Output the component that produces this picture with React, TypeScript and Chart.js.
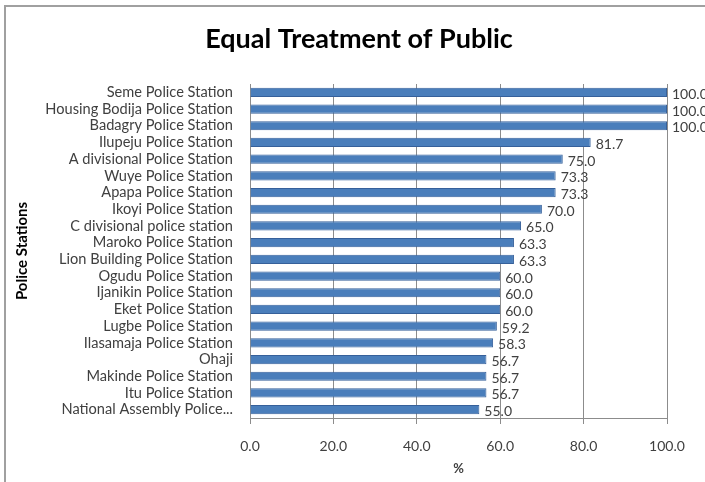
import React, { useEffect, useRef } from "react";
import { Chart, registerables } from "chart.js";

Chart.register(...registerables);

const categories = [
  "Seme Police Station",
  "Housing Bodija Police Station",
  "Badagry Police Station",
  "Ilupeju Police Station",
  "A divisional Police Station",
  "Wuye Police Station",
  "Apapa Police Station",
  "Ikoyi Police Station",
  "C divisional police station",
  "Maroko Police Station",
  "Lion Building Police Station",
  "Ogudu Police Station",
  "Ijanikin Police Station",
  "Eket Police Station",
  "Lugbe Police Station",
  "Ilasamaja Police Station",
  "Ohaji",
  "Makinde Police Station",
  "Itu Police Station",
  "National Assembly Police...",
];

const values = [100, 100, 100, 81.7, 75, 73.3, 73.3, 70, 65, 63.3, 63.3, 60, 60, 60, 59.2, 58.3, 56.7, 56.7, 56.7, 55];

const titleText = "Equal Treatment of Public";
const yTitle = "Police Stations";
const xTitle = "%";
const xMin = 0;
const xMax = 100;
const xStep = 20;

const FONT = "Lato, 'Open Sans', sans-serif";

const labelPlugin = {
  id: "valueLabels",
  afterDatasetsDraw(chart: any) {
    const ctx = chart.ctx;
    const meta = chart.getDatasetMeta(0);
    ctx.save();
    ctx.font = `14px ${FONT}`;
    ctx.fillStyle = "#404040";
    ctx.textAlign = "left";
    ctx.textBaseline = "middle";
    meta.data.forEach((bar: any, i: number) => {
      const v = chart.data.datasets[0].data[i];
      ctx.fillText(Number(v).toFixed(1), bar.x + 5, bar.y + 2);
    });
    ctx.restore();
  },
};

const titlePlugin = {
  id: "customTitle",
  afterDraw(chart: any) {
    const ctx = chart.ctx;
    ctx.save();
    ctx.font = `bold 27px ${FONT}`;
    ctx.fillStyle = "#000";
    ctx.textAlign = "center";
    ctx.textBaseline = "middle";
    ctx.fillText(titleText, 359, 39);
    ctx.restore();
  },
};

export default function App() {
  const ref = useRef<HTMLCanvasElement | null>(null);

  useEffect(() => {
    document.body.style.margin = "0";
    const canvas = ref.current!;
    const chart = new Chart(canvas, {
      type: "bar",
      data: {
        labels: categories,
        datasets: [
          {
            data: values,
            backgroundColor: (c: any) => {
              const el = c.element;
              const y = el ? el.y : NaN;
              if (!Number.isFinite(y)) return "#4a7ebb";
              const g = c.chart.ctx.createLinearGradient(0, y - 5, 0, y + 5);
              g.addColorStop(0, "#5a8fd0");
              g.addColorStop(0.5, "#4a7ebb");
              g.addColorStop(1, "#3c68a0");
              return g;
            },
            borderColor: "#36609a",
            borderWidth: 1,
            barPercentage: 0.55,
            categoryPercentage: 1,
          },
        ],
      },
      options: {
        indexAxis: "y",
        animation: false,
        responsive: false,
        maintainAspectRatio: false,
        layout: { padding: { left: 8, right: 38, top: 84, bottom: 2 } },
        plugins: {
          legend: { display: false },
          tooltip: { enabled: false },
          title: { display: false },
        },
        scales: {
          x: {
            min: xMin,
            max: xMax,
            afterFit: (s: any) => {
              s.height = 62;
            },
            ticks: {
              stepSize: xStep,
              color: "#404040",
              font: { family: FONT, size: 14 },
              padding: 14,
              callback: (v: any) => Number(v).toFixed(1),
            },
            grid: {
              color: "#8c8c8c",
              lineWidth: 1,
              drawTicks: true,
              tickLength: 6,
            },
            border: { color: "#8c8c8c" },
            title: {
              display: true,
              text: xTitle,
              color: "#404040",
              font: { family: FONT, size: 13, weight: "bold" },
              padding: { top: 2, bottom: 3 },
            },
          },
          y: {
            afterFit: (s: any) => {
              s.width = 242;
            },
            ticks: {
              color: "#404040",
              font: { family: FONT, size: 14.6 },
              padding: 17,
              autoSkip: false,
            },
            grid: { display: false, drawTicks: false },
            border: { display: true, color: "#8c8c8c" },
            title: {
              display: true,
              text: yTitle,
              color: "#000",
              font: { family: FONT, size: 15, weight: "bold" },
              padding: { top: 5, bottom: 4 },
            },
          },
        },
      },
      plugins: [labelPlugin, titlePlugin],
    } as any);
    return () => chart.destroy();
  }, []);

  return (
    <div style={{ position: "relative", width: 705, height: 482, background: "#fff", overflow: "hidden" }}>
      <div
        style={{
          position: "absolute",
          left: 4,
          top: 5,
          right: -10,
          bottom: -10,
          borderTop: "2px solid #a0a0a0",
          borderLeft: "2px solid #a0a0a0",
        }}
      />
      <canvas ref={ref} width={705} height={482} style={{ position: "absolute", left: 0, top: 0 }} />
    </div>
  );
}
